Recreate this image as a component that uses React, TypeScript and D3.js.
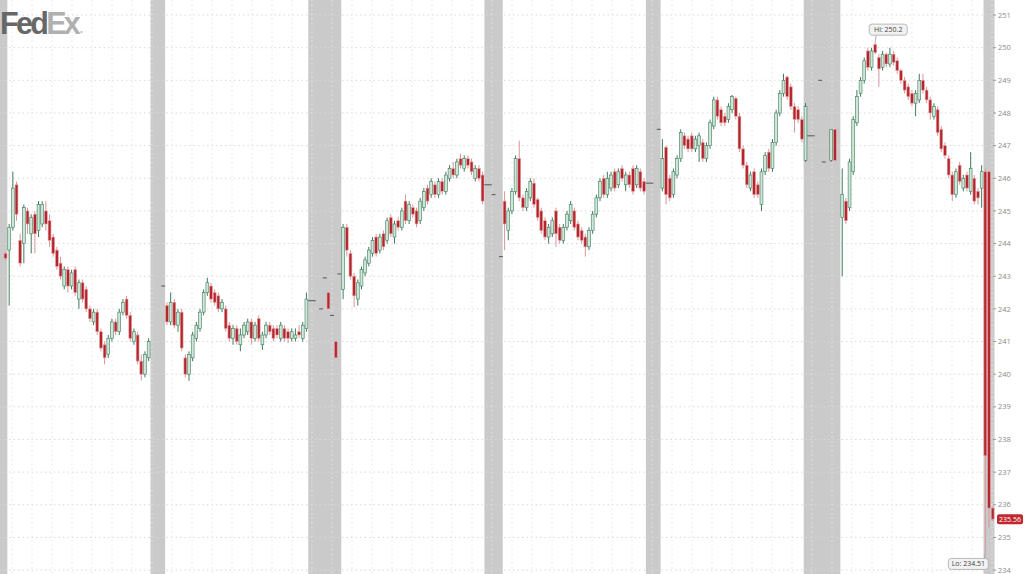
import React from 'react';
import * as d3 from 'd3';

type Bar = [number, number, number, number] | null; // open, high, low, close

// ---- Data ----
const ext0: Bar[] = [null, [243.7, 243.75, 243.5, 243.55]];
const session1: Bar[] = [
  [243.8, 244.6, 242.1, 244.5], [244.5, 246.2, 244.4, 245.7], [245.8, 245.9, 244.7, 244.9], [244.1, 244.3, 243.3, 243.4],
  [244.0, 245.2, 243.4, 245.1], [245.0, 245.1, 244.3, 244.6], [244.3, 244.9, 243.7, 244.8], [244.9, 245.0, 243.7, 244.3],
  [244.4, 245.3, 244.2, 245.2], [244.6, 245.3, 244.5, 245.2], [245.0, 245.3, 244.4, 244.6], [244.7, 244.9, 243.9, 244.1],
  [244.2, 244.3, 243.6, 243.7], [243.8, 243.9, 243.2, 243.3], [243.4, 243.6, 242.9, 243.0], [242.7, 243.3, 242.6, 243.2],
  [243.2, 243.3, 242.5, 242.7], [242.7, 243.2, 242.6, 243.1], [243.2, 243.3, 242.4, 242.5], [242.3, 242.9, 242.0, 242.8],
  [242.8, 242.9, 242.2, 242.3], [242.6, 242.7, 241.9, 242.0], [242.0, 242.1, 241.6, 241.7], [241.6, 242.0, 241.5, 241.9],
  [241.9, 242.0, 241.2, 241.3], [241.3, 241.4, 240.7, 240.8], [240.9, 241.0, 240.3, 240.5], [240.6, 241.2, 240.5, 241.1],
  [241.1, 241.7, 241.0, 241.6], [241.6, 241.7, 241.2, 241.3], [241.3, 242.0, 241.2, 241.9], [241.9, 242.3, 241.8, 242.2],
  [242.3, 242.4, 241.7, 241.8], [241.8, 241.9, 241.0, 241.1], [241.0, 241.4, 240.9, 241.3], [241.2, 241.3, 240.3, 240.4],
  [240.4, 240.6, 239.8, 240.0], [240.0, 240.7, 239.9, 240.6], [240.5, 241.1, 240.4, 241.0],
];
const ext1: Bar[] = [null, null, null, [242.7, 242.72, 242.68, 242.7]];
const session2: Bar[] = [
  [242.1, 242.2, 241.5, 241.6], [241.6, 242.5, 241.5, 242.2], [242.2, 242.3, 241.4, 241.5], [241.5, 242.0, 241.3, 241.9],
  [241.9, 242.0, 240.7, 240.8], [240.5, 240.6, 239.9, 240.0], [240.0, 240.7, 239.8, 240.6], [240.5, 241.3, 240.4, 241.2],
  [241.1, 241.6, 241.0, 241.5], [241.4, 242.0, 241.3, 241.9], [241.9, 242.6, 241.8, 242.5], [242.5, 242.95, 242.4, 242.8],
  [242.7, 242.8, 242.2, 242.3], [242.5, 242.6, 242.1, 242.2], [242.4, 242.5, 241.9, 242.0], [242.0, 242.3, 241.9, 242.2],
  [242.0, 242.1, 241.3, 241.4], [241.5, 241.6, 241.0, 241.1], [241.1, 241.5, 240.9, 241.4], [241.4, 241.5, 240.9, 241.0],
  [240.9, 241.4, 240.7, 241.2], [241.2, 241.6, 241.1, 241.5], [241.3, 241.7, 241.2, 241.6], [241.6, 241.7, 240.9, 241.1],
  [241.1, 241.6, 241.0, 241.5], [241.7, 241.8, 241.0, 241.1], [240.9, 241.3, 240.75, 241.2], [241.2, 241.6, 241.1, 241.5],
  [241.5, 241.6, 241.2, 241.3], [241.4, 241.5, 241.0, 241.1], [241.4, 241.5, 241.1, 241.2], [241.1, 241.6, 241.0, 241.5],
  [241.4, 241.5, 241.0, 241.1], [241.3, 241.4, 240.95, 241.1], [241.1, 241.4, 241.0, 241.3], [241.1, 241.4, 241.0, 241.2],
  [241.3, 241.5, 241.1, 241.2], [241.1, 241.6, 241.0, 241.5], [241.4, 242.5, 241.3, 242.3],
];
const ext2: Bar[] = [
  [242.25, 242.27, 242.23, 242.25], [242.25, 242.27, 242.23, 242.25], null, [242.0, 242.02, 241.98, 242.0],
  [242.95, 242.97, 242.93, 242.95], [242.5, 242.5, 242.0, 242.0], [241.8, 241.82, 241.78, 241.8], [241.0, 241.0, 240.5, 240.5],
  [243.07, 243.09, 243.05, 243.07],
];
const session3: Bar[] = [
  [242.6, 244.6, 242.3, 244.5], [244.5, 244.6, 243.6, 243.8], [243.7, 243.8, 242.9, 243.0], [243.0, 243.1, 242.05, 242.4],
  [242.3, 242.9, 242.1, 242.8], [242.7, 243.3, 242.6, 243.2], [243.1, 243.6, 243.0, 243.5], [243.4, 243.9, 243.3, 243.8],
  [243.7, 244.2, 243.6, 244.1], [244.2, 244.3, 243.6, 243.7], [243.8, 244.3, 243.7, 244.2], [244.3, 244.4, 243.8, 243.9],
  [244.1, 244.8, 244.0, 244.7], [244.8, 244.9, 244.2, 244.3], [244.2, 244.7, 244.0, 244.6], [244.7, 244.8, 244.4, 244.5],
  [244.5, 245.1, 244.4, 245.0], [245.3, 245.5, 244.6, 244.7], [244.7, 245.3, 244.6, 245.2], [245.1, 245.2, 244.8, 244.9],
  [245.0, 245.1, 244.5, 244.6], [244.7, 245.4, 244.6, 245.3], [245.1, 245.7, 245.0, 245.6], [245.7, 245.8, 245.2, 245.3],
  [245.5, 246.0, 245.4, 245.9], [245.8, 245.9, 245.4, 245.5], [245.5, 246.0, 245.4, 245.9], [245.9, 246.0, 245.5, 245.6],
  [245.6, 246.2, 245.5, 246.1], [246.0, 246.4, 245.9, 246.3], [246.3, 246.5, 246.0, 246.1], [246.1, 246.6, 246.0, 246.5],
  [246.6, 246.75, 246.3, 246.4], [246.3, 246.7, 246.2, 246.6], [246.6, 246.7, 246.3, 246.4], [246.5, 246.6, 246.1, 246.2],
  [246.0, 246.4, 245.9, 246.3], [246.3, 246.4, 245.9, 246.0], [246.1, 246.2, 245.2, 245.3],
];
const ext3: Bar[] = [
  [245.8, 245.82, 245.78, 245.8], [245.8, 245.82, 245.78, 245.8], [245.5, 245.52, 245.48, 245.5], null,
  [243.6, 243.62, 243.58, 243.6],
];
const session4: Bar[] = [
  [245.3, 245.6, 243.8, 244.6], [244.4, 245.1, 244.1, 245.0], [245.0, 245.7, 244.9, 245.6], [245.6, 246.7, 245.5, 246.6],
  [246.6, 247.15, 245.3, 245.4], [245.4, 245.5, 245.0, 245.1], [245.1, 245.7, 245.0, 245.6], [245.4, 246.0, 245.3, 245.9],
  [245.85, 246.0, 245.1, 245.2], [245.35, 245.4, 244.7, 244.8], [245.0, 245.1, 244.3, 244.4], [244.7, 244.8, 244.1, 244.2],
  [244.2, 244.6, 244.0, 244.5], [244.3, 244.8, 244.2, 244.7], [245.0, 245.1, 243.9, 244.3], [244.5, 244.6, 244.0, 244.1],
  [244.1, 244.6, 244.0, 244.5], [244.5, 245.0, 244.4, 244.9], [244.7, 245.3, 244.6, 245.2], [245.0, 245.1, 244.4, 244.5],
  [244.6, 244.7, 244.1, 244.2], [244.4, 244.5, 244.0, 244.1], [244.2, 244.3, 243.6, 243.9], [243.9, 244.5, 243.8, 244.4],
  [244.4, 245.0, 244.3, 244.9], [244.9, 245.5, 244.8, 245.4], [245.4, 246.0, 245.3, 245.9], [246.0, 246.1, 245.4, 245.5],
  [245.5, 246.2, 245.4, 246.0], [245.7, 246.2, 245.6, 246.1], [246.2, 246.3, 245.6, 245.7], [245.8, 246.3, 245.7, 246.2],
  [246.3, 246.4, 245.9, 246.0], [245.8, 246.2, 245.6, 246.1], [246.1, 246.2, 245.7, 245.8], [246.3, 246.4, 245.5, 245.6],
  [245.8, 246.4, 245.7, 246.3], [246.2, 246.3, 245.6, 245.7], [245.9, 246.0, 245.5, 245.6],
];
const ext4: Bar[] = [
  [245.85, 245.87, 245.83, 245.85], [245.85, 245.87, 245.83, 245.85], null, [247.5, 247.52, 247.48, 247.5],
];
const session5: Bar[] = [
  [245.7, 247.2, 245.6, 246.6], [246.95, 247.0, 245.2, 245.5], [246.0, 246.1, 245.3, 245.4], [245.5, 246.3, 245.4, 246.2],
  [246.1, 246.7, 246.0, 246.6], [246.6, 247.5, 246.5, 247.4], [247.3, 247.4, 246.9, 247.0], [247.2, 247.3, 246.8, 246.9],
  [247.3, 247.4, 246.8, 246.9], [246.9, 247.3, 246.8, 247.2], [247.0, 247.4, 246.5, 247.3], [247.1, 247.2, 246.5, 246.6],
  [246.6, 247.1, 246.5, 247.0], [247.0, 247.8, 246.9, 247.7], [247.6, 248.5, 247.5, 248.4], [248.4, 248.5, 247.8, 247.9],
  [248.1, 248.2, 247.6, 247.7], [247.9, 248.0, 247.6, 247.7], [247.8, 248.3, 247.7, 248.2], [248.1, 248.55, 248.0, 248.5],
  [248.45, 248.5, 247.8, 247.9], [247.9, 248.0, 246.8, 246.9], [246.9, 247.0, 246.3, 246.4], [246.4, 246.5, 245.7, 245.8],
  [245.7, 246.2, 245.6, 246.1], [246.2, 246.3, 245.4, 245.5], [245.8, 245.9, 245.4, 245.5], [245.2, 246.3, 245.0, 246.2],
  [246.2, 246.8, 246.1, 246.7], [246.8, 246.9, 246.2, 246.3], [246.3, 247.2, 246.2, 247.1], [247.1, 248.1, 247.0, 248.0],
  [248.0, 248.7, 247.9, 248.6], [248.6, 249.2, 248.5, 249.0], [249.1, 249.15, 248.4, 248.5], [248.8, 248.9, 248.1, 248.2],
  [248.2, 248.3, 247.4, 247.8], [248.1, 248.2, 247.7, 247.8], [247.8, 247.9, 247.1, 247.2],
];
const ext5: Bar[] = [
  [246.55, 248.3, 246.5, 248.2], [247.3, 247.32, 247.28, 247.3], [247.3, 247.32, 247.28, 247.3], null,
  [249.0, 249.02, 248.98, 249.0], [246.5, 246.52, 246.48, 246.5], null, [246.55, 247.5, 246.5, 247.5],
  [247.5, 247.5, 246.55, 246.55], null,
];
const session6: Bar[] = [
  [244.8, 246.3, 243.0, 245.5], [245.3, 245.4, 244.6, 244.7], [245.1, 246.6, 245.0, 246.5], [246.2, 247.9, 246.1, 247.8],
  [247.7, 248.7, 247.6, 248.5], [248.6, 249.1, 248.5, 249.0], [249.0, 249.7, 248.9, 249.6], [249.9, 250.0, 249.3, 249.4],
  [249.4, 250.0, 249.3, 249.9], [250.1, 250.2, 249.8, 249.85], [249.7, 249.8, 248.8, 249.35], [249.4, 249.9, 249.3, 249.8],
  [249.8, 249.85, 249.4, 249.5], [249.5, 250.0, 249.4, 249.8], [249.8, 249.9, 249.45, 249.55], [249.6, 249.7, 249.2, 249.3],
  [249.3, 249.35, 248.9, 249.0], [249.0, 249.1, 248.6, 248.7], [248.8, 248.9, 248.4, 248.5], [248.6, 248.7, 248.2, 248.3],
  [248.3, 248.7, 247.9, 248.6], [248.4, 249.2, 248.3, 249.0], [249.0, 249.2, 248.6, 248.7], [248.7, 248.8, 248.3, 248.4],
  [248.4, 248.5, 247.8, 248.0], [247.9, 248.3, 247.8, 248.2], [248.1, 248.2, 247.3, 247.4], [247.5, 247.6, 246.8, 246.9],
  [247.0, 247.1, 246.6, 246.7], [246.6, 246.7, 246.0, 246.1], [246.1, 246.2, 245.3, 245.5], [245.5, 246.3, 245.4, 246.2],
  [246.4, 246.5, 245.8, 245.9], [245.7, 246.1, 245.6, 246.0], [246.1, 246.2, 245.6, 245.7], [245.6, 246.8, 245.5, 246.3],
  [246.0, 246.1, 245.2, 245.3], [245.6, 245.7, 245.2, 245.4], [245.7, 246.4, 245.1, 246.2],
];
const ext6: Bar[] = [
  [246.2, 246.3, 234.51, 237.5], [246.2, 246.2, 235.3, 235.9], [235.9, 235.95, 235.5, 235.56],
];

const segments: { kind: 'ext' | 'reg'; bars: Bar[] }[] = [
  { kind: 'ext', bars: ext0 }, { kind: 'reg', bars: session1 },
  { kind: 'ext', bars: ext1 }, { kind: 'reg', bars: session2 },
  { kind: 'ext', bars: ext2 }, { kind: 'reg', bars: session3 },
  { kind: 'ext', bars: ext3 }, { kind: 'reg', bars: session4 },
  { kind: 'ext', bars: ext4 }, { kind: 'reg', bars: session5 },
  { kind: 'ext', bars: ext5 }, { kind: 'reg', bars: session6 },
  { kind: 'ext', bars: ext6 },
];

const priceTicks = d3.range(234, 252);
const hiLabel = 'Hi: 250.2';
const loLabel = 'Lo: 234.51';
const lastLabel = '235.56';

export default function App() {
  const W = 1024;
  const H = 574;
  const plotRight = 994.5;

  const slots: { i: number; b: Bar }[] = [];
  const bands: [number, number][] = [];
  let idx = 0;
  segments.forEach((seg) => {
    const start = idx;
    seg.bars.forEach((b) => {
      slots.push({ i: idx, b });
      idx++;
    });
    if (seg.kind === 'ext') bands.push([start, idx]);
  });
  const N = idx;

  const x = d3.scaleLinear().domain([0, N]).range([0, plotRight]);
  const y = d3.scaleLinear().domain([233.88, 251.46]).range([H, 0]);
  const step = x(1) - x(0);
  const bw = step * 0.78;

  const bars = slots.filter((s) => s.b !== null) as { i: number; b: [number, number, number, number] }[];
  const hiBar = bars.reduce((a, s) => (s.b[1] > a.b[1] ? s : a), bars[0]);
  const loBar = bars.reduce((a, s) => (s.b[2] < a.b[2] ? s : a), bars[0]);
  const lastBar = bars[bars.length - 1];

  const hx = x(hiBar.i + 0.5);
  const hy = y(hiBar.b[1]);
  const lx = x(loBar.i + 0.5);
  const ly = y(loBar.b[2]);
  const cy = y(lastBar.b[3]);

  const vGrid = d3.range(12, plotRight, 20);

  return (
    <div style={{ position: 'fixed', left: 0, top: 0 }}>
      <svg width={W} height={H} style={{ display: 'block', background: '#fff' }}>
        {/* session bands */}
        {bands.map(([a, b], k) => (
          <rect key={'band' + k} x={x(a)} y={0} width={x(b) - x(a)} height={H} fill="#cacaca" />
        ))}
        {/* grid */}
        {priceTicks.map((t) => (
          <line key={'hg' + t} x1={0} x2={plotRight} y1={y(t)} y2={y(t)} stroke="#d9d9d9" strokeWidth={1} strokeDasharray="1.5,3" />
        ))}
        {vGrid.map((v) => (
          <line key={'vg' + v} x1={v} x2={v} y1={0} y2={H} stroke="#e4e4e4" strokeWidth={1} strokeDasharray="1.5,3" />
        ))}
        {/* logo */}
        <text x={0} y={34} fontFamily="Liberation Sans, Arial, sans-serif" fontWeight="bold" fontSize={30.5} letterSpacing={-2.7}>
          <tspan fill="#676767">Fed</tspan>
          <tspan fill="#b0b0b0">Ex</tspan>
        </text>
        <circle cx={81.5} cy={32} r={1} fill="#b0b0b0" />
        {/* candles */}
        {bars.map(({ i, b }) => {
          const [o, h, l, c] = b;
          const cx = x(i + 0.5);
          const up = c >= o;
          const top = y(Math.max(o, c));
          const bot = y(Math.min(o, c));
          const bh = Math.max(1, bot - top);
          const doji = h - l < 0.1;
          if (doji) {
            return (
              <line key={'c' + i} x1={cx - bw / 2 - 0.5} x2={cx + bw / 2 + 0.5} y1={y(c)} y2={y(c)} stroke="#555" strokeWidth={1} />
            );
          }
          return (
            <g key={'c' + i}>
              <line x1={cx} x2={cx} y1={y(h)} y2={y(l)} stroke={up ? '#3e7c5d' : '#d9969a'} strokeWidth={1} />
              <rect
                x={cx - bw / 2}
                y={top}
                width={bw}
                height={bh}
                fill={up ? '#cfe6d8' : '#b3262d'}
                stroke={up ? '#3e7c5d' : '#e6a7a9'}
                strokeWidth={0.6}
              />
            </g>
          );
        })}
        {/* axis */}
        {priceTicks.map((t) => (
          <g key={'yt' + t}>
            <line x1={993} x2={996} y1={y(t)} y2={y(t)} stroke="#9a9a9a" strokeWidth={1} />
            <text x={998} y={y(t)} dy="0.35em" fontFamily="Open Sans, sans-serif" fontSize={7.5} fill="#8a8a8a">
              {t}
            </text>
          </g>
        ))}
        {/* Hi label */}
        <line x1={hx} x2={hx + 1} y1={hy} y2={hy - 6} stroke="#999" strokeWidth={0.8} />
        <rect x={hx - 6} y={hy - 17} width={38} height={11} rx={3} fill="#f2f2f2" stroke="#aaa" strokeWidth={0.8} />
        <text x={hx + 13} y={hy - 11.5} dy="0.35em" textAnchor="middle" fontFamily="Open Sans, sans-serif" fontSize={7} fill="#444">
          {hiLabel}
        </text>
        {/* Lo label */}
        <line x1={lx} x2={lx - 1} y1={ly} y2={ly + 5} stroke="#999" strokeWidth={0.8} />
        <rect x={lx - 37} y={ly + 5} width={40} height={11} rx={3} fill="#f2f2f2" stroke="#aaa" strokeWidth={0.8} />
        <text x={lx - 17} y={ly + 10.5} dy="0.35em" textAnchor="middle" fontFamily="Open Sans, sans-serif" fontSize={7} fill="#444">
          {loLabel}
        </text>
        {/* last price tag */}
        <rect x={997} y={cy - 5} width={26} height={10} rx={2} fill="#c0282e" />
        <text x={1010} y={cy} dy="0.35em" textAnchor="middle" fontFamily="Open Sans, sans-serif" fontSize={7} fill="#fff">
          {lastLabel}
        </text>
      </svg>
    </div>
  );
}
